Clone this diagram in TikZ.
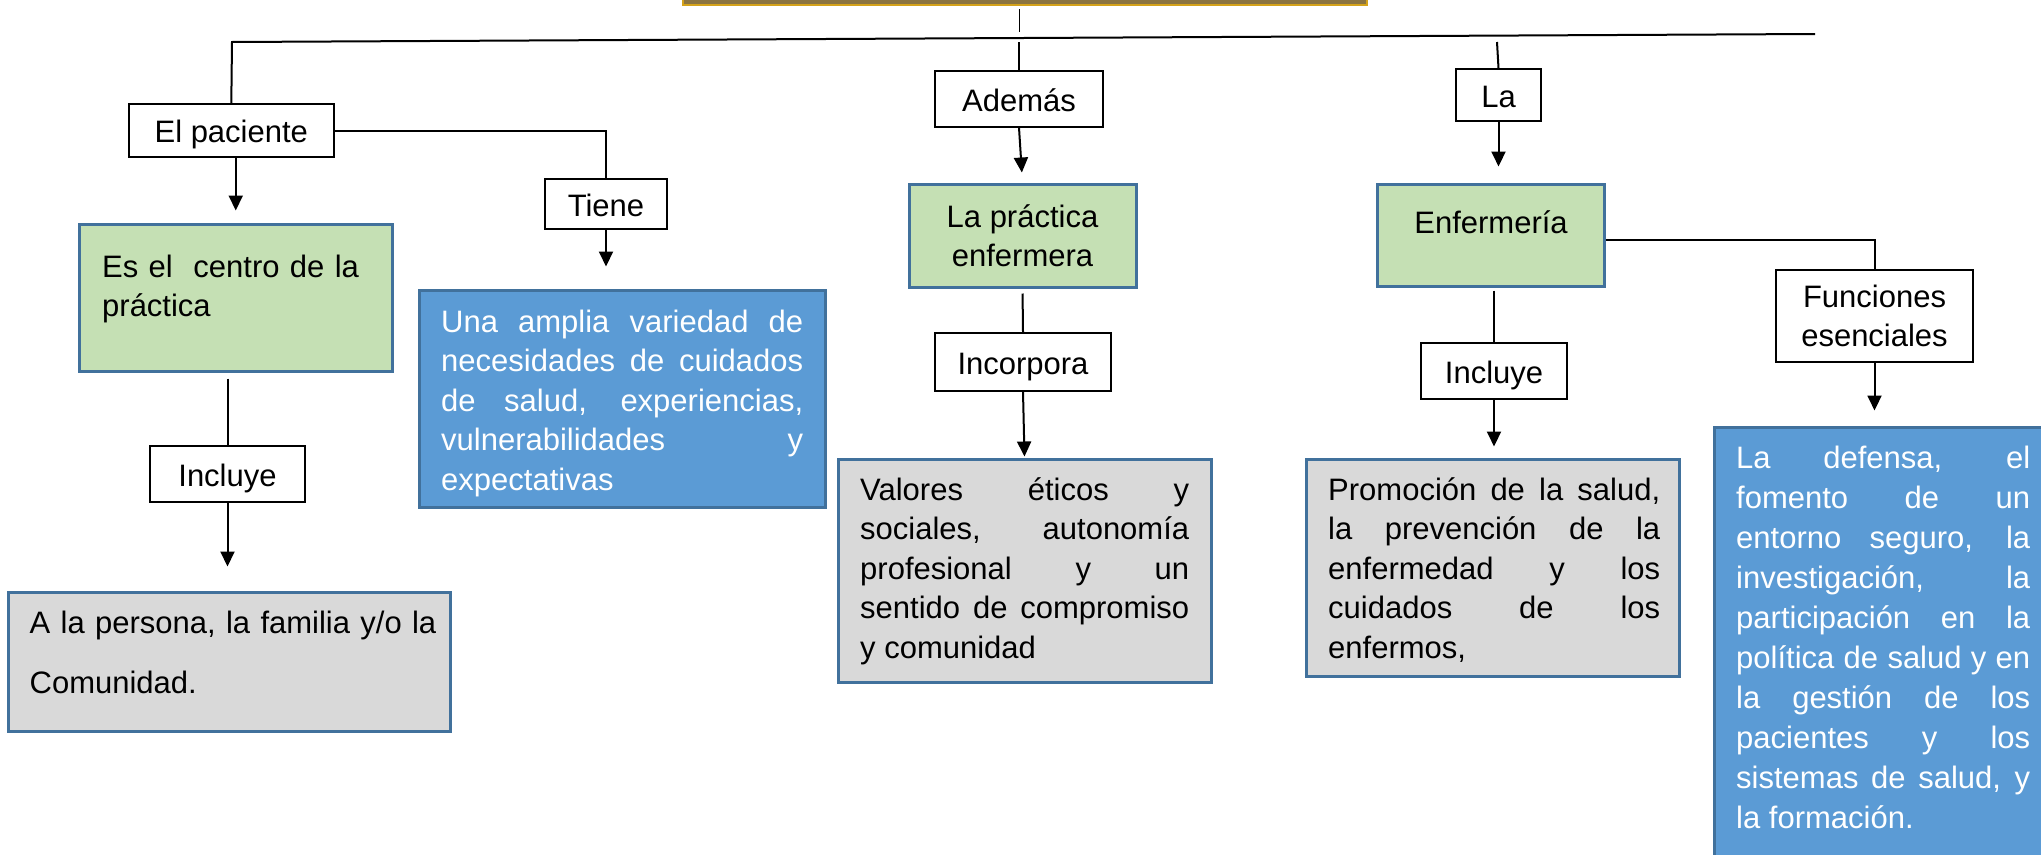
\documentclass[tikz,border=0pt]{standalone}
\usepackage{fontspec}
\setmainfont{Liberation Sans}
\usetikzlibrary{arrows.meta}
\definecolor{cajaverde}{HTML}{C5E0B4}
\definecolor{cajaazul}{HTML}{5B9BD5}
\definecolor{cajagris}{HTML}{D9D9D9}
\definecolor{bordeazul}{HTML}{41719C}
\definecolor{titulocafe}{HTML}{8B7440}
\definecolor{titulooro}{HTML}{D4A21A}

\begin{document}
\begin{tikzpicture}[x=1pt,y=-1pt,
  font=\fontsize{31}{39.5}\selectfont,
  marco/.style={draw=black, line width=1.5pt, fill=white, inner sep=0pt},
  etiqueta/.style={marco, text height=24pt, text depth=0pt},
  verde/.style={draw=bordeazul, line width=3pt, fill=cajaverde, inner sep=0pt},
  azul/.style={draw=bordeazul, line width=3pt, fill=cajaazul, inner sep=0pt},
  gris/.style={draw=bordeazul, line width=3pt, fill=cajagris, inner sep=0pt},
  texto/.style={inner sep=0pt, anchor=base west, align=justify},
  linea/.style={line width=2pt},
  flecha/.style={line width=2pt, -{Triangle[length=15pt,width=14pt]}}]
\useasboundingbox (0,0) rectangle (2041,854);

% titulo, cortado arriba
\node[draw=titulooro, line width=2pt, fill=titulocafe, inner sep=0pt,
  minimum width=684pt, minimum height=45pt] (titulo) at (1025,-17.5) {};

% etiquetas
\node[etiqueta, minimum width=205pt, minimum height=53pt] (paciente) at (231.3,130.5) {El paciente};
\node[etiqueta, minimum width=122pt, minimum height=50pt] (tiene) at (606,204) {Tiene};
\node[etiqueta, minimum width=155pt, minimum height=56pt] (incluyeA) at (227.5,474) {Incluye};
\node[etiqueta, minimum width=168pt, minimum height=56pt] (ademas) at (1019,99) {Además};
\node[etiqueta, minimum width=176pt, minimum height=58pt] (incorpora) at (1023,362) {Incorpora};
\node[etiqueta, minimum width=85pt, minimum height=52pt] (la) at (1498.5,95) {La};
\node[etiqueta, minimum width=146pt, minimum height=56pt] (incluyeB) at (1494,371) {Incluye};
\node[marco, minimum width=197pt, minimum height=92pt, align=center] (funciones) at (1874.5,316) {Funciones\\esenciales};

% cajas
\node[verde, minimum width=312.5pt, minimum height=147pt] (centro) at (235.75,297.5) {};
\node[verde, minimum width=227pt, minimum height=103pt, align=center] (practica) at (1022.5,235.5) {La práctica\\enfermera};
\node[verde, minimum width=226.5pt, minimum height=102pt] (enfermeria) at (1490.75,235) {};
\node[azul, minimum width=406pt, minimum height=217pt] (necesidades) at (622,398.5) {};
\node[azul, minimum width=346pt, minimum height=443pt] (defensa) at (1887,648.5) {};
\node[gris, minimum width=441.5pt, minimum height=139pt] (persona) at (229.25,661.5) {};
\node[gris, minimum width=373pt, minimum height=223pt] (valores) at (1024.5,570.5) {};
\node[gris, minimum width=373pt, minimum height=217pt] (promocion) at (1492.5,567.5) {};

% textos de las cajas
\node[texto, align=left, text width=280pt] (centrotxt) at (102,277) {Es el\ \ centro de la\\práctica};
\node[inner sep=0pt, anchor=base] (enfermeriatxt) at (1491,233) {Enfermería};
\node[texto, text width=362pt, text=white] (necesidadestxt) at (441,332) {Una amplia variedad de\linebreak necesidades de cuidados\linebreak de salud, experiencias,\linebreak vulnerabilidades y\linebreak expectativas};
\node[texto, align=left, text width=420pt, font=\fontsize{31}{60}\selectfont] (personatxt) at (29.5,633) {A la persona, la familia y/o la\\Comunidad.};
\node[texto, text width=329pt] (valorestxt) at (860,500) {Valores éticos y\linebreak sociales, autonomía\linebreak profesional y un\linebreak sentido de compromiso\linebreak y comunidad};
\node[texto, text width=332pt] (promociontxt) at (1328,500) {Promoción de la salud,\linebreak la prevención de la\linebreak enfermedad y los\linebreak cuidados de los\linebreak enfermos,};
\node[texto, text width=294pt, text=white, font=\fontsize{31}{40}\selectfont] (defensatxt) at (1736,468) {La defensa, el\linebreak fomento de un\linebreak entorno seguro, la\linebreak investigación, la\linebreak participación en la\linebreak política de salud y en\linebreak la gestión de los\linebreak pacientes y los\linebreak sistemas de salud, y\linebreak la formación.};

% linea principal
\coordinate (ramaA) at (232,42);
\coordinate (ramaE) at (1815,34);
\coordinate (ramaB) at (1019,42);
\coordinate (ramaC) at (1019.6,39);
\coordinate (ramaD) at (1497,42);
\draw[linea] (paciente.north) -- (ramaA) -- (ramaE);
\draw[line width=1pt, shorten <=3pt, shorten >=7pt] (titulo.south -| ramaC) -- (ramaC);
\draw[linea] (ramaB) -- (ademas.north);
\draw[linea] (ramaD) -- (la.north);

% conectores
\draw[linea] (paciente.east) -| (tiene.north);
\draw[flecha, shorten >=12pt] (paciente.south -| centro.north) -- (centro.north);
\draw[flecha, shorten >=22pt] (tiene.south) -- (tiene.south |- necesidades.north);
\draw[linea, shorten <=6pt] (centro.south -| incluyeA.north) -- (incluyeA.north);
\draw[flecha, shorten >=24pt] (incluyeA.south) -- (incluyeA.south |- persona.north);
\draw[flecha, shorten >=10pt] (ademas.south) -- (practica.north);
\draw[linea, shorten <=5pt] (practica.south) -- (incorpora.north);
\draw[flecha, shorten >=1pt] (incorpora.south) -- (valores.north);
\draw[flecha, shorten >=16pt] (la.south) -- (la.south |- enfermeria.north);
\draw[linea, shorten <=3pt] (incluyeB.north |- enfermeria.south) -- (incluyeB.north);
\draw[flecha, shorten >=11pt] (incluyeB.south) -- (incluyeB.south |- promocion.north);
\draw[linea] ([yshift=-5pt]enfermeria.east) -| (funciones.north);
\draw[flecha, shorten >=15pt] (funciones.south) -- (funciones.south |- defensa.north);
\end{tikzpicture}
\end{document}
